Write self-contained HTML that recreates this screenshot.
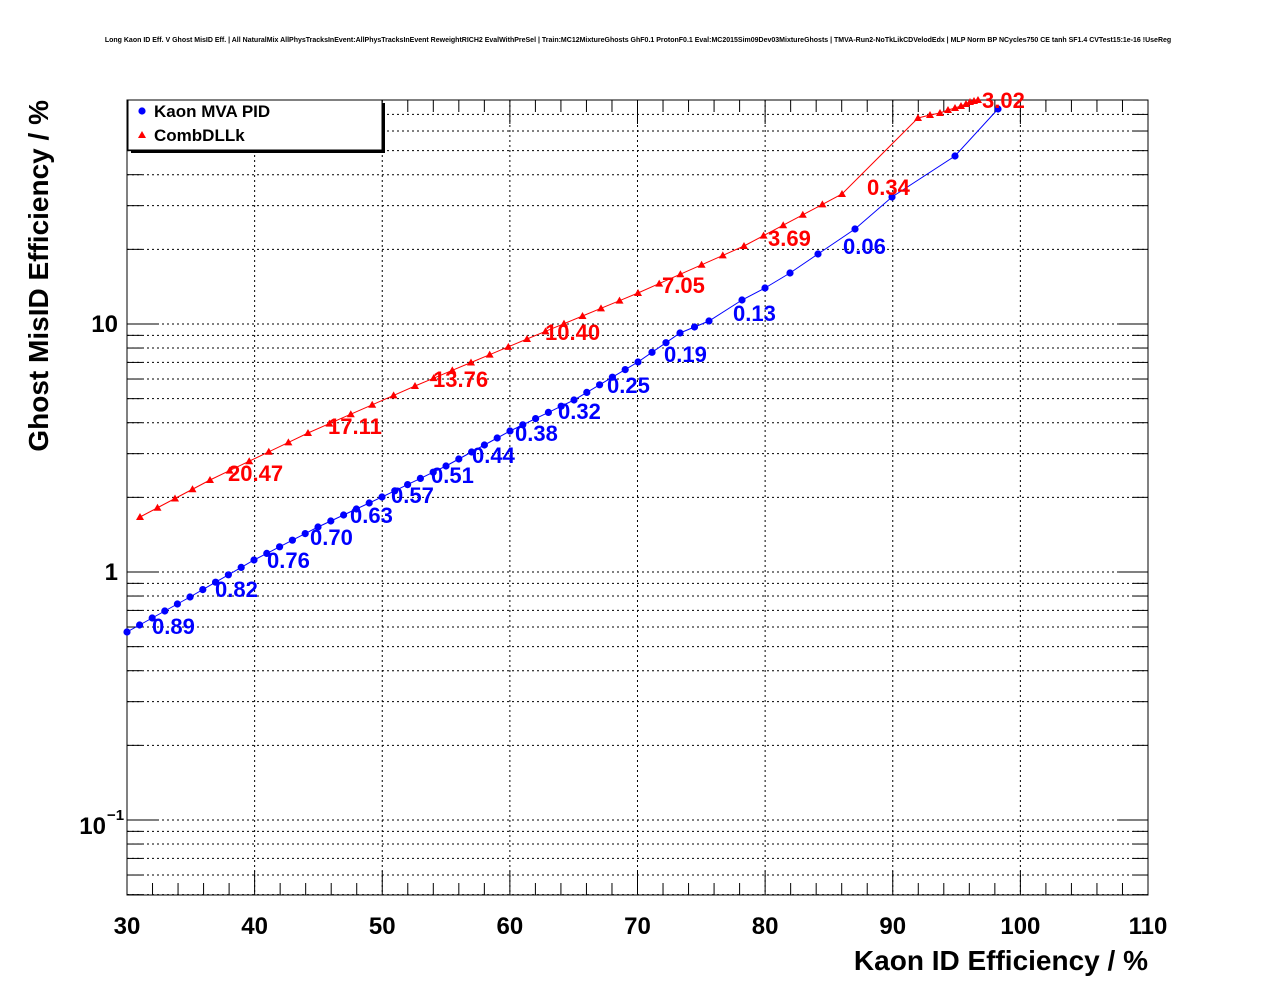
<!DOCTYPE html>
<html><head><meta charset="utf-8"><style>
body{margin:0;background:#fff}
svg{display:block;font-family:"Liberation Sans",sans-serif}
</style></head><body>
<svg id="s" width="1276" height="996" xmlns="http://www.w3.org/2000/svg">
<rect width="1276" height="996" fill="#fff"/>
<text x="638" y="42" font-size="7" font-weight="bold" text-anchor="middle">Long Kaon ID Eff. V Ghost MisID Eff. | All NaturalMix AllPhysTracksInEvent:AllPhysTracksInEvent ReweightRICH2 EvalWithPreSel | Train:MC12MixtureGhosts GhF0.1 ProtonF0.1 Eval:MC2015Sim09Dev03MixtureGhosts | TMVA-Run2-NoTkLikCDVelodEdx | MLP Norm BP NCycles750 CE tanh SF1.4 CVTest15:1e-16 !UseReg</text>
<g id="g"></g>
</svg>
<script>
var g=document.getElementById('g'),h='';
var X0=127,X1=1148,Y0=100,Y1=895;
function px(x){return X0+(x-30)*(X1-X0)/80}
function py(v){return 572-248*Math.log10(v)}
for(var x=40;x<=100;x+=10)h+='<line x1="'+px(x)+'" y1="'+Y0+'" x2="'+px(x)+'" y2="'+Y1+'" stroke="#000" stroke-dasharray="2,3"/>';
for(var d=-2;d<=1;d++)for(var m=1;m<10;m++){var v=m*Math.pow(10,d),y=py(v);if(y<Y0||y>Y1)continue;
h+='<line x1="'+X0+'" y1="'+y+'" x2="'+X1+'" y2="'+y+'" stroke="#000" stroke-dasharray="2,3"/>';
var L=m==1?30:15;h+='<line x1="'+X0+'" y1="'+y+'" x2="'+(X0+L)+'" y2="'+y+'" stroke="#000"/><line x1="'+X1+'" y1="'+y+'" x2="'+(X1-L)+'" y2="'+y+'" stroke="#000"/>';}
for(var x=30;x<=110;x+=2){var L=x%10==0?24:12,X=px(x);h+='<line x1="'+X+'" y1="'+Y1+'" x2="'+X+'" y2="'+(Y1-L)+'" stroke="#000"/><line x1="'+X+'" y1="'+Y0+'" x2="'+X+'" y2="'+(Y0+L)+'" stroke="#000"/>';}
h+='<rect x="'+X0+'" y="'+Y0+'" width="'+(X1-X0)+'" height="'+(Y1-Y0)+'" fill="none" stroke="#000"/>';
for(var x=30;x<=110;x+=10)h+='<text x="'+px(x)+'" y="934" font-size="24" font-weight="bold" text-anchor="middle">'+x+'</text>';
h+='<text x="118" y="332" font-size="24" font-weight="bold" text-anchor="end">10</text><text x="118" y="580" font-size="24" font-weight="bold" text-anchor="end">1</text><text x="106" y="834" font-size="24" font-weight="bold" text-anchor="end">10</text><text x="107" y="820" font-size="15" font-weight="bold">−1</text>';
h+='<text x="1148" y="970" font-size="28" font-weight="bold" text-anchor="end">Kaon ID Efficiency / %</text>';
h+='<text transform="translate(48,100) rotate(-90)" font-size="28" font-weight="bold" text-anchor="end">Ghost MisID Efficiency / %</text>';
function dense(a,step,upto){var out=[];for(var i=0;i<a.length-1;i++){var p=a[i],q=a[i+1];if(p[0]<upto){var n=Math.max(1,Math.round((q[0]-p[0])/step));for(var k=0;k<n;k++)out.push([p[0]+(q[0]-p[0])*k/n,p[1]+(q[1]-p[1])*k/n]);}else out.push(p);}out.push(a[a.length-1]);return out;}
var B=dense([[127,632],[190,597],[254,560],[318,527],[382,497],[446,466],[510,431],[574,400],[638,362],[680,333],[709,321],[742,300],[765,288],[790,273],[818,254],[855,229],[892,197],[955,156],[998,109]],12.8,700);
var R=dense([[140,517],[210,480],[308,433],[415,386],[527,339],[638,293],[744,246],[842,194],[918,118]],20,830).concat([[930,115],[940,113],[948,110],[955,108],[961,106],[966,104],[970,102],[974,101],[978,100]]);
function poly(p,c){return '<polyline fill="none" stroke="'+c+'" stroke-width="1" points="'+p.map(function(q){return q.join(',')}).join(' ')+'"/>'}
h+=poly(R,'#f00')+poly(B,'#00f');
R.forEach(function(q){h+='<polygon points="'+q[0]+','+(q[1]-4)+' '+(q[0]-4)+','+(q[1]+3)+' '+(q[0]+4)+','+(q[1]+3)+'" fill="#f00"/>'});
B.forEach(function(q){h+='<circle cx="'+q[0]+'" cy="'+q[1]+'" r="3.6" fill="#00f"/>'});
var bl=[["0.89",152,634],["0.82",215,597],["0.76",267,568],["0.70",310,545],["0.63",350,523],["0.57",391,503],["0.51",431,483],["0.44",472,463],["0.38",515,441],["0.32",558,419],["0.25",607,393],["0.19",664,362],["0.13",733,321],["0.06",843,254]];
var rl=[["20.47",228,481],["17.11",328,434],["13.76",433,387],["10.40",545,340],["7.05",662,293],["3.69",768,246],["0.34",867,195],["3.02",982,108]];
bl.forEach(function(t){h+='<text x="'+t[1]+'" y="'+t[2]+'" font-size="22" font-weight="bold" fill="#00f">'+t[0]+'</text>'});
rl.forEach(function(t){h+='<text x="'+t[1]+'" y="'+t[2]+'" font-size="22" font-weight="bold" fill="#f00">'+t[0]+'</text>'});
h+='<rect x="131" y="103" width="254" height="50" fill="#000"/><rect x="128" y="100" width="254" height="50" fill="#fff" stroke="#000"/>';
h+='<circle cx="142" cy="111" r="3.6" fill="#00f"/><text x="154" y="117" font-size="17" font-weight="bold">Kaon MVA PID</text>';
h+='<polygon points="142,131 138,138 146,138" fill="#f00"/><text x="154" y="141" font-size="17" font-weight="bold">CombDLLk</text>';
g.innerHTML=h;
</script>
</body></html>
